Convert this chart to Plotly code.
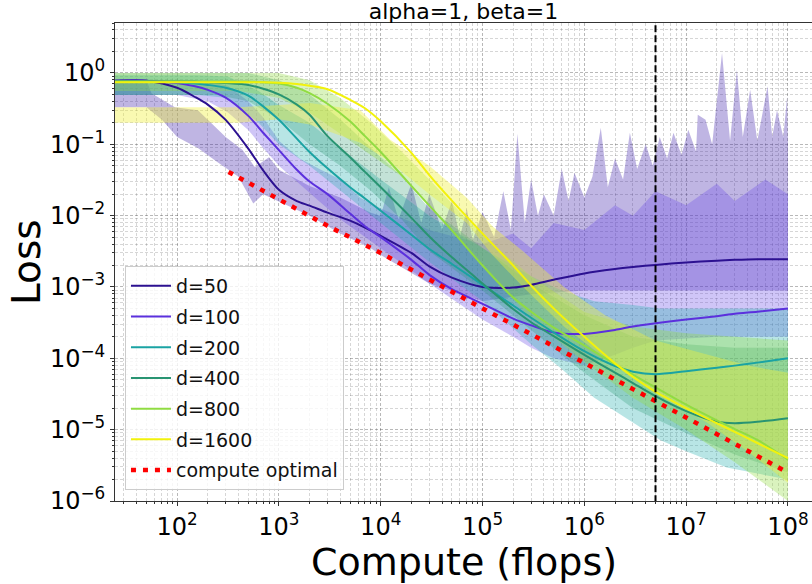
import plotly.graph_objects as go

# ---------------- data ----------------
compute = [24.5, 50, 100, 150, 200, 300, 500, 700, 1e3, 1.5e3, 2e3, 3e3, 5e3, 7e3,
           1e4, 2e4, 3e4, 5e4, 1e5, 2e5, 3e5, 5e5, 1e6, 2e6, 3e6, 5e6, 1e7, 2e7,
           3e7, 5e7, 1e8]

loss_d50 = [0.78, 0.78, 0.62, 0.46, 0.36, 0.22, 0.087, 0.043, 0.023, 0.016, 0.0138,
            0.011, 0.0085, 0.0068, 0.0052, 0.0030, 0.00195, 0.00135, 0.0010, 0.00098,
            0.00107, 0.00126, 0.00155, 0.00178, 0.0019, 0.00204, 0.0022, 0.00234,
            0.0024, 0.00245, 0.00245]
loss_d100 = [0.78, 0.78, 0.72, 0.65, 0.58, 0.45, 0.25, 0.145, 0.083, 0.044, 0.030,
             0.020, 0.0107, 0.0071, 0.0050, 0.0024, 0.00148, 0.00093, 0.00058, 0.00036,
             0.00029, 0.00023, 0.00022, 0.00025, 0.00028, 0.00031, 0.00035, 0.00039,
             0.00042, 0.00045, 0.0005]
loss_d200 = [0.76, 0.76, 0.74, 0.71, 0.68, 0.62, 0.48, 0.34, 0.22, 0.12, 0.078, 0.046,
             0.025, 0.0174, 0.0117, 0.0054, 0.0034, 0.0021, 0.00107, 0.00055, 0.00037,
             0.00023, 0.000126, 7.8e-5, 6.5e-5, 6.0e-5, 6.6e-5, 7.4e-5, 7.9e-5, 8.7e-5,
             1.0e-4]
loss_d400 = [0.76, 0.76, 0.76, 0.76, 0.74, 0.72, 0.68, 0.60, 0.50, 0.36, 0.26, 0.13,
             0.066, 0.041, 0.025, 0.0093, 0.0051, 0.0026, 0.00112, 0.00049, 0.00032,
             0.000204, 0.000112, 6.3e-5, 4.5e-5, 2.95e-5, 1.82e-5, 1.29e-5, 1.23e-5,
             1.29e-5, 1.45e-5]
loss_d800 = [0.76, 0.76, 0.76, 0.76, 0.76, 0.76, 0.76, 0.74, 0.71, 0.62, 0.52, 0.37,
             0.21, 0.13, 0.078, 0.026, 0.0138, 0.0062, 0.0020, 0.00071, 0.00045,
             0.00027, 0.000151, 8.3e-5, 5.9e-5, 3.9e-5, 2.24e-5, 1.35e-5, 1.02e-5,
             7.2e-6, 3.8e-6]
loss_d1600 = [0.74, 0.74, 0.74, 0.74, 0.74, 0.74, 0.74, 0.74, 0.73, 0.70, 0.66, 0.59,
              0.42, 0.32, 0.21, 0.076, 0.037, 0.0162, 0.0056, 0.0020, 0.00105, 0.0005,
              0.0002, 8.5e-5, 5.5e-5, 3.4e-5, 2.0e-5, 1.23e-5, 9.3e-6, 6.5e-6, 4.0e-6]

opt_compute = [320, 1e3, 3e3, 1e4, 3e4, 1e5, 3e5, 1e6, 3e6, 1e7, 3e7, 1e8]
opt_loss = [0.041, 0.017, 0.0072, 0.0030, 0.00126, 0.0005, 0.000218, 8.5e-5, 3.7e-5,
            1.48e-5, 6.3e-6, 2.5e-6]

vline_compute = 5e6

# shaded bands (upper / lower envelopes)
d50_hi_x = [24.5, 50, 56, 95, 160, 300, 440, 580, 800, 1000, 2000, 4000, 8000,
            1e4, 1.2e4, 1.5e4, 2e4, 2.5e4, 3e4, 4e4, 5e4, 6e4, 7e4, 8e4,
            1e5, 1.3e5, 1.6e5, 1.9e5, 2.2e5, 2.6e5, 3e5, 3.5e5, 4e5, 5e5, 6e5, 7e5, 8e5,
            1e6, 1.2e6, 1.45e6, 1.7e6, 2e6, 2.4e6, 2.8e6, 3.3e6, 4e6, 4.7e6, 5.5e6,
            6.5e6, 7.5e6, 9e6, 1.05e7, 1.25e7, 1.3e7, 1.55e7, 1.8e7, 2.25e7, 2.7e7,
            3.15e7, 3.6e7, 4.25e7, 5e7, 6.3e7, 7e7, 7.8e7, 9e7, 9.8e7, 1e8]
d50_hi = [0.79, 0.79, 0.52, 0.33, 0.30, 0.126, 0.083, 0.048, 0.066, 0.044, 0.026, 0.018,
          0.011,
          0.01, 0.025, 0.0089, 0.028, 0.0079, 0.02, 0.0063, 0.016, 0.005, 0.0126, 0.0045,
          0.0112, 0.005, 0.022, 0.0063, 0.14, 0.0079, 0.032, 0.01, 0.02, 0.01, 0.045,
          0.016, 0.04,
          0.018, 0.035, 0.17, 0.025, 0.063, 0.032, 0.145, 0.045, 0.1, 0.05, 0.126, 0.063,
          0.145, 0.071, 0.16, 0.079, 0.26, 0.22, 0.1, 1.9, 0.112, 1.1, 0.126, 0.58,
          0.112, 0.65, 0.126, 0.3, 0.126, 0.46, 0.1]
d50_lo_x = [24.5, 50, 71, 100, 160, 250, 400, 560, 700, 1000, 2000, 4000, 8000, 1e4,
            3e4, 1e5, 3e5, 1e6, 1e7, 1e8]
d50_lo = [0.33, 0.33, 0.22, 0.126, 0.089, 0.056, 0.035, 0.0148, 0.020, 0.0158, 0.010,
          0.0056, 0.0035, 0.0028, 0.00112, 0.00063, 0.00079, 0.00089, 0.00089, 0.00089]

d100_x = [24.5, 100, 200, 316, 500, 700, 1000, 1600, 2500, 4000, 6300, 1e4, 3e4, 1e5,
          2e5, 3e5, 5e5, 1e6, 2e6, 3e6, 5e6, 1e7, 2e7, 3e7, 6e7, 1e8]
d100_hi = [0.79, 0.79, 0.76, 0.66, 0.40, 0.24, 0.112, 0.063, 0.045, 0.032, 0.0178, 0.0126,
           0.0063, 0.004, 0.0056, 0.0035, 0.0079, 0.0063, 0.014, 0.01, 0.022, 0.014,
           0.028, 0.016, 0.032, 0.02]
d100_lo = [0.49, 0.49, 0.40, 0.28, 0.158, 0.089, 0.050, 0.028, 0.0158, 0.0089, 0.0056,
           0.0035, 0.00112, 0.00035, 0.0002, 0.000141, 0.0001, 7.9e-5, 0.000112,
           0.000141, 0.000178, 0.00019, 0.0002, 0.0002, 0.0002, 0.0002]

d200_x = [24.5, 160, 316, 630, 1000, 2000, 4000, 1e4, 3e4, 1e5, 3e5, 6e5, 1.25e6, 3e6,
          5.6e6, 1e7, 2.5e7, 1e8]
d200_hi = [0.93, 0.93, 0.89, 0.56, 0.355, 0.20, 0.089, 0.032, 0.010, 0.0035, 0.00141,
           0.00089, 0.00063, 0.00056, 0.0005, 0.0005, 0.0005, 0.0005]
d200_lo = [0.49, 0.49, 0.447, 0.20, 0.10, 0.050, 0.0224, 0.0079, 0.00224, 0.00063,
           0.000158, 7.1e-5, 2.8e-5, 1.26e-5, 7.1e-6, 5.0e-6, 2.95e-6, 2.0e-6]

d400_x = [24.5, 250, 500, 1000, 2000, 4000, 8000, 1.6e4, 3e4, 1e5, 3e5, 1e6, 3e6, 1e7,
          3e7, 1e8]
d400_hi = [1.0, 1.0, 1.0, 0.79, 0.50, 0.224, 0.089, 0.0355, 0.0126, 0.0035, 0.00112,
           0.0004, 0.0002, 0.000158, 0.000141, 0.000141]
d400_lo = [0.49, 0.49, 0.40, 0.224, 0.10, 0.050, 0.0224, 0.0089, 0.00316, 0.00089,
           0.00025, 6.3e-5, 2.0e-5, 8.9e-6, 4.5e-6, 2.5e-6]

d800_x = [24.5, 400, 1000, 2000, 4000, 8000, 1.6e4, 3e4, 6e4, 1.25e5, 3e5, 1e6, 3e6,
          1e7, 3e7, 1e8]
d800_hi = [1.0, 1.0, 1.0, 0.79, 0.447, 0.20, 0.079, 0.032, 0.0112, 0.004, 0.00141,
           0.000447, 0.00028, 0.000224, 0.0002, 0.000178]
d800_lo = [0.56, 0.56, 0.447, 0.28, 0.141, 0.071, 0.0355, 0.0141, 0.00447, 0.00141,
           0.000355, 8.9e-5, 2.8e-5, 1.0e-5, 3.5e-6, 1.0e-6]

d1600_x = [24.5, 400, 1000, 2000, 6300, 1.25e4, 3e4, 7e4, 1.25e5, 2.5e5, 6.3e5, 1.6e6,
           5e6, 1.6e7, 4e7, 1e8]
d1600_hi = [0.33, 0.33, 0.355, 0.38, 0.30, 0.115, 0.05, 0.0178, 0.0071, 0.00316, 0.001,
            0.0004, 0.000178, 0.000112, 7.9e-5, 6.3e-5]
d1600_lo = [0.20, 0.20, 0.224, 0.19, 0.105, 0.056, 0.020, 0.0079, 0.0028, 0.001, 0.00028,
            0.0001, 3.2e-5, 1.26e-5, 5.0e-6, 1.8e-6]

x_tick_vals = [1e2, 1e3, 1e4, 1e5, 1e6, 1e7, 1e8]
x_tick_text = ["10<sup>2</sup>", "10<sup>3</sup>", "10<sup>4</sup>", "10<sup>5</sup>",
               "10<sup>6</sup>", "10<sup>7</sup>", "10<sup>8</sup>"]
y_tick_vals = [1e-6, 1e-5, 1e-4, 1e-3, 1e-2, 1e-1, 1e0]
y_tick_text = ["10<sup>\u22126</sup>", "10<sup>\u22125</sup>", "10<sup>\u22124</sup>",
               "10<sup>\u22123</sup>", "10<sup>\u22122</sup>", "10<sup>\u22121</sup>",
               "10<sup>0</sup>"]

# ---------------- styling ----------------
labels = ["d=50", "d=100", "d=200", "d=400", "d=800", "d=1600"]
line_colors = ["#2c1191", "#5b30dd", "#1aa3a3", "#289472", "#90dc42", "#f2f20c"]
band_fills = ["rgba(60,30,170,0.33)", "rgba(110,80,230,0.33)", "rgba(40,175,175,0.33)",
              "rgba(40,150,110,0.28)", "rgba(150,220,70,0.35)", "rgba(240,240,60,0.40)"]

bands = [
    (d50_hi_x, d50_hi, d50_lo_x, d50_lo),
    (d100_x, d100_hi, d100_x, d100_lo),
    (d200_x, d200_hi, d200_x, d200_lo),
    (d400_x, d400_hi, d400_x, d400_lo),
    (d800_x, d800_hi, d800_x, d800_lo),
    (d1600_x, d1600_hi, d1600_x, d1600_lo),
]
curves = [loss_d50, loss_d100, loss_d200, loss_d400, loss_d800, loss_d1600]

fig = go.Figure()

for (hx, hy, lx, ly), fc in zip(bands, band_fills):
    fig.add_trace(go.Scatter(
        x=list(hx) + list(lx)[::-1], y=list(hy) + list(ly)[::-1],
        fill="toself", fillcolor=fc, line=dict(width=0), mode="lines",
        showlegend=False, hoverinfo="skip"))

for name, ys, col in zip(labels, curves, line_colors):
    fig.add_trace(go.Scatter(
        x=compute, y=ys, mode="lines", name=name, legendgroup=name,
        line=dict(color=col, width=2, shape="spline", smoothing=0.8)))

fig.add_trace(go.Scatter(
    x=opt_compute, y=opt_loss, mode="lines", name="compute optimal",
    legendgroup="opt", line=dict(color="red", width=4.5, dash="5px,7px")))

fig.add_trace(go.Scatter(
    x=[vline_compute, vline_compute], y=[1e-7, 1e2], mode="lines",
    line=dict(color="black", width=2, dash="7px,3px"),
    showlegend=False, hoverinfo="skip"))

minor_x = [m * 10 ** e for e in range(1, 9) for m in range(2, 10)]
minor_y = [m * 10.0 ** e for e in range(-6, 1) for m in range(2, 10)]

grid_major = "rgba(0,0,0,0.28)"
grid_minor = "rgba(0,0,0,0.16)"

fig.update_xaxes(
    type="log", range=[1.39, 8.236], tickmode="array", tickvals=x_tick_vals,
    ticktext=x_tick_text, tickfont=dict(size=24, color="black"),
    ticks="outside", ticklen=4, tickcolor="#333", showline=True, linecolor="#333",
    linewidth=1, mirror=True, showgrid=True, gridcolor=grid_major, griddash="3px,2px",
    gridwidth=0.8, zeroline=False,
    minor=dict(tickmode="array", tickvals=minor_x, ticks="outside", ticklen=2,
               tickcolor="#333", showgrid=True, gridcolor=grid_minor,
               griddash="3px,2px", gridwidth=0.6))
fig.update_yaxes(
    type="log", range=[-6, 0.70], tickmode="array", tickvals=y_tick_vals,
    ticktext=y_tick_text, tickfont=dict(size=24, color="black"),
    ticks="outside", ticklen=4, tickcolor="#333", showline=True, linecolor="#333",
    linewidth=1, mirror=False, showgrid=True, gridcolor=grid_major, griddash="3px,2px",
    gridwidth=0.8, zeroline=False,
    minor=dict(tickmode="array", tickvals=minor_y, ticks="outside", ticklen=2,
               tickcolor="#333", showgrid=True, gridcolor=grid_minor,
               griddash="3px,2px", gridwidth=0.6))

fig.update_layout(
    width=812, height=584,
    margin=dict(l=115, r=0, t=23, b=83),
    plot_bgcolor="white", paper_bgcolor="white",
    font=dict(family="DejaVu Sans", color="black"),
    title=dict(text="alpha=1, beta=1", x=0.5, xref="paper", xanchor="center",
               y=1 - 11.5 / 584, yref="container", yanchor="middle",
               font=dict(size=22, color="black")),
    legend=dict(x=0.0143, y=0.023, xanchor="left", yanchor="bottom",
                bgcolor="rgba(255,255,255,0.8)", bordercolor="#cccccc", borderwidth=1,
                font=dict(size=19, color="#111"), itemwidth=40, tracegroupgap=3),
    annotations=[
        dict(text="Loss", x=(26 - 115) / 697, y=0.5, xref="paper", yref="paper",
             textangle=-90, showarrow=False, font=dict(size=39, color="black"),
             xanchor="center", yanchor="middle"),
        dict(text="Compute (flops)", x=0.5, y=(501 - 562) / 478, xref="paper",
             yref="paper", showarrow=False, font=dict(size=38, color="black"),
             xanchor="center", yanchor="middle"),
    ],
)

fig.write_html("out.html",
               config={"displayModeBar": False},
               post_script="document.body.style.margin='0';"
                           "document.body.style.overflow='hidden';")
